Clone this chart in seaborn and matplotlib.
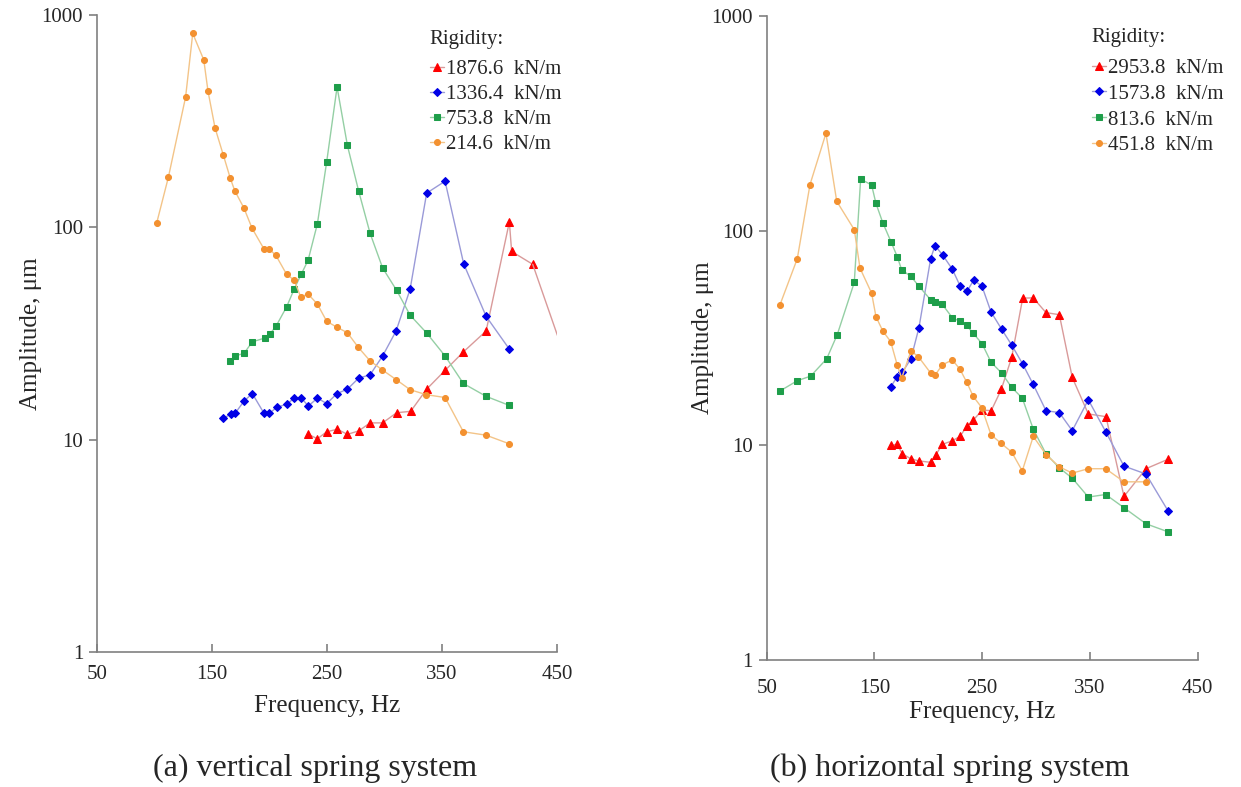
import matplotlib
matplotlib.use("Agg")
import matplotlib.pyplot as plt
import seaborn as sns

# ---- (a) vertical spring system ----
a_labels = ["1876.6  kN/m", "1336.4  kN/m", "753.8  kN/m", "214.6  kN/m"]

a_red_f = [233.7, 241.6, 249.7, 258.9, 267.7, 277.5, 287.4, 298.3, 310.5, 322.7,
           336.6, 352.6, 368.5, 388.3, 408.5, 410.5, 428.8]
a_red_amp = [10.6, 10.1, 10.9, 11.2, 10.6, 11.0, 12.0, 12.0, 13.4, 13.6,
             17.3, 21.2, 25.9, 32.5, 106, 77, 67]
# curve continues to the axis edge without a marker
a_red_tail_f = [428.8, 450.3]
a_red_tail_amp = [67, 31]

a_blue_f = [159.8, 166.2, 170.0, 177.8, 185.0, 195.2, 199.8, 206.2, 214.9, 221.6,
            227.7, 233.7, 241.6, 249.7, 258.7, 267.7, 277.5, 287.4, 298.3, 310.0,
            322.2, 336.6, 352.6, 368.8, 388.3, 408.5]
a_blue_amp = [12.6, 13.2, 13.3, 15.2, 16.5, 13.3, 13.3, 14.2, 14.7, 15.7,
              15.7, 14.4, 15.7, 14.8, 16.5, 17.3, 19.5, 20.2, 24.8, 32.5,
              51.1, 145, 165, 67.3, 38.1, 26.7]

a_green_f = [165.9, 170.0, 177.8, 185.0, 195.8, 200.4, 205.7, 214.9, 221.6, 227.7,
             233.5, 241.6, 249.7, 258.7, 267.7, 277.5, 287.4, 298.3, 310.5, 322.2,
             336.6, 352.6, 368.5, 388.3, 408.5]
a_green_amp = [23.5, 24.8, 25.5, 28.9, 30.1, 31.5, 34.3, 42.3, 51.5, 60.4,
               70, 104, 204, 458, 243, 148, 93.8, 64.4, 50.5, 38.6,
               31.8, 24.8, 18.4, 16.0, 14.5]

a_orange_f = [101.9, 112.0, 127.0, 133.2, 142.8, 146.5, 152.6, 159.8, 165.9, 169.7,
              177.8, 184.8, 195.2, 199.6, 205.4, 214.9, 221.3, 227.0, 233.7, 241.6,
              249.7, 258.4, 267.7, 277.2, 287.4, 298.1, 310.0, 322.2, 336.1, 352.6,
              368.5, 388.3, 408.3]
a_orange_amp = [105, 172, 411, 819, 615, 437, 294, 219, 170, 149,
                123, 99, 79, 79, 74, 60, 56.5, 47.2, 48.4, 43.5,
                36.1, 33.9, 31.9, 27.2, 23.5, 21.3, 19.2, 17.2, 16.3, 15.8,
                10.9, 10.5, 9.57]

# ---- (b) horizontal spring system ----
b_labels = ["2953.8  kN/m", "1573.8  kN/m", "813.6  kN/m", "451.8  kN/m"]

b_red_f = [165.1, 171.2, 175.9, 183.9, 191.3, 202.2, 206.8, 213.0, 222.3, 229.4,
           235.9, 241.7, 250.1, 258.4, 267.7, 277.4, 287.6, 297.4, 309.2, 321.6,
           333.6, 348.5, 364.9, 381.6, 402.0, 422.7]
b_red_amp = [10.0, 10.1, 9.13, 8.65, 8.46, 8.33, 9.0, 10.1, 10.5, 11.0,
             12.3, 13.1, 14.6, 14.5, 18.2, 25.7, 48.5, 48.6, 41.5, 40.6,
             20.7, 14.0, 13.6, 5.78, 7.78, 8.62]

b_blue_f = [165.1, 171.2, 175.9, 183.9, 191.3, 202.2, 206.2, 213.3, 222.3, 229.4,
            235.9, 242.1, 249.8, 258.2, 268.1, 277.4, 287.6, 297.4, 309.2, 321.6,
            333.6, 348.5, 364.9, 381.6, 402.0, 422.7]
b_blue_amp = [18.7, 20.9, 21.9, 25.3, 35.3, 74.1, 85.2, 77.0, 66.1, 55.4,
              52.1, 58.9, 55.1, 41.8, 34.7, 29.3, 23.9, 19.2, 14.5, 14.2,
              11.7, 16.3, 11.5, 8.0, 7.35, 4.93]

b_green_f = [62.3, 78.4, 90.8, 105.7, 115.5, 131.3, 137.2, 147.4, 151.4, 157.7,
             165.4, 171.2, 175.3, 183.9, 191.3, 202.2, 206.2, 213.0, 222.3, 229.4,
             235.6, 241.7, 249.8, 258.2, 268.1, 277.4, 287.2, 297.4, 309.2, 321.6,
             333.6, 348.5, 364.6, 381.6, 402.0, 422.7]
b_green_amp = [17.9, 20.0, 21.0, 25.3, 32.8, 57.4, 174, 163, 134, 109,
               88.7, 75.6, 65.6, 61.2, 55.1, 47.6, 46.4, 45.3, 39.3, 37.8,
               36.2, 33.2, 29.8, 24.4, 21.7, 18.6, 16.6, 11.9, 9.13, 7.85,
               7.03, 5.74, 5.9, 5.12, 4.31, 3.95]

b_orange_f = [62.3, 78.4, 90.2, 105.0, 115.0, 131.3, 136.6, 147.4, 151.4, 157.7,
              165.1, 171.2, 175.3, 183.9, 190.7, 202.2, 206.2, 213.0, 222.3, 229.4,
              235.6, 241.7, 249.5, 258.2, 267.7, 277.4, 287.2, 297.4, 309.2, 321.6,
              333.6, 348.5, 364.6, 381.6, 402.0]
b_orange_amp = [45.1, 74, 164, 284, 137, 101, 66.9, 51.1, 39.8, 34.1,
                30.4, 23.6, 20.6, 27.5, 25.9, 21.7, 21.2, 23.7, 25.0, 22.6,
                19.7, 16.9, 15.0, 11.2, 10.2, 9.3, 7.6, 11.0, 9.06, 7.94,
                7.42, 7.78, 7.78, 6.76, 6.76]

x_ticks = [50, 150, 250, 350, 450]
y_ticks = [1, 10, 100, 1000]

# line colour, marker colour, marker, marker size
styles = [("#d99a9a", "#ff0000", "^", 5.5),
          ("#9a9ad8", "#0000e6", "D", 4.3),
          ("#94cfa4", "#1e9e4a", "s", 4.0),
          ("#f3c488", "#f39130", "o", 4.3)]

sns.set_style("ticks")
plt.rcParams["font.family"] = ["Liberation Serif", "DejaVu Serif"]

fig = plt.figure(figsize=(12.41, 7.87), dpi=100)
ax_a = fig.add_axes([0.0782, 0.1715, 0.3707, 0.8094])
ax_b = fig.add_axes([0.6178, 0.1614, 0.3473, 0.8183])


def draw(ax, series, labels):
    for (f, amp), lab, (lc, mc, mk, ms) in zip(series, labels, styles):
        sns.lineplot(x=f, y=amp, ax=ax, color=lc, lw=1.0, marker=mk,
                     markersize=ms, markerfacecolor=mc, markeredgecolor=mc,
                     label=lab, estimator=None, sort=False)


draw(ax_a, [(a_red_f, a_red_amp), (a_blue_f, a_blue_amp),
            (a_green_f, a_green_amp), (a_orange_f, a_orange_amp)], a_labels)
sns.lineplot(x=a_red_tail_f, y=a_red_tail_amp, ax=ax_a, color=styles[0][0],
             lw=1.0, estimator=None, sort=False)

draw(ax_b, [(b_red_f, b_red_amp), (b_blue_f, b_blue_amp),
            (b_green_f, b_green_amp), (b_orange_f, b_orange_amp)], b_labels)

panel_opts = [
    # ax, legend x, legend top, label spacing, tick pad, xlabel pad, ylabel x
    (ax_a, 0.705, 0.990, 0.25, 9, 8, -0.12),
    (ax_b, 0.735, 0.994, 0.30, 14, 2, -0.122),
]

for ax, leg_x, leg_y, lsp, tpad, xlpad, ylx in panel_opts:
    ax.set_yscale("log")
    ax.set_xlim(50, 450)
    ax.set_ylim(1, 1000)
    ax.set_xticks(x_ticks)
    ax.set_xticklabels([str(t) for t in x_ticks])
    ax.set_yticks(y_ticks)
    ax.set_yticklabels([str(t) for t in y_ticks])
    ax.minorticks_off()
    ax.tick_params(axis="x", direction="in", length=6, width=1.2,
                   color="#808080", labelsize=15, pad=tpad)
    ax.tick_params(axis="y", direction="out", length=6, width=1.2,
                   color="#808080", labelsize=15, pad=4)
    for s in ["top", "right"]:
        ax.spines[s].set_visible(False)
    for s in ["left", "bottom"]:
        ax.spines[s].set_color("#808080")
        ax.spines[s].set_linewidth(1.2)
    ax.set_xlabel("Frequency, Hz", fontsize=18, labelpad=xlpad)
    ax.set_ylabel("Amplitude, μm", fontsize=18)
    ax.yaxis.set_label_coords(ylx, 0.5)
    leg = ax.legend(title="Rigidity:", loc="upper left",
                    bbox_to_anchor=(leg_x, leg_y), frameon=False,
                    fontsize=15, title_fontsize=15, handlelength=0.7,
                    handletextpad=0.1, labelspacing=lsp, borderaxespad=0)
    leg._legend_box.align = "left"
    leg._legend_box.sep = 8

fig.text(315 / 1241, 1 - 768 / 787, "(a) vertical spring system",
         ha="center", va="center", fontsize=23)
fig.text(950 / 1241, 1 - 768 / 787, "(b) horizontal spring system",
         ha="center", va="center", fontsize=23)

fig.savefig("out.png", dpi=100)
